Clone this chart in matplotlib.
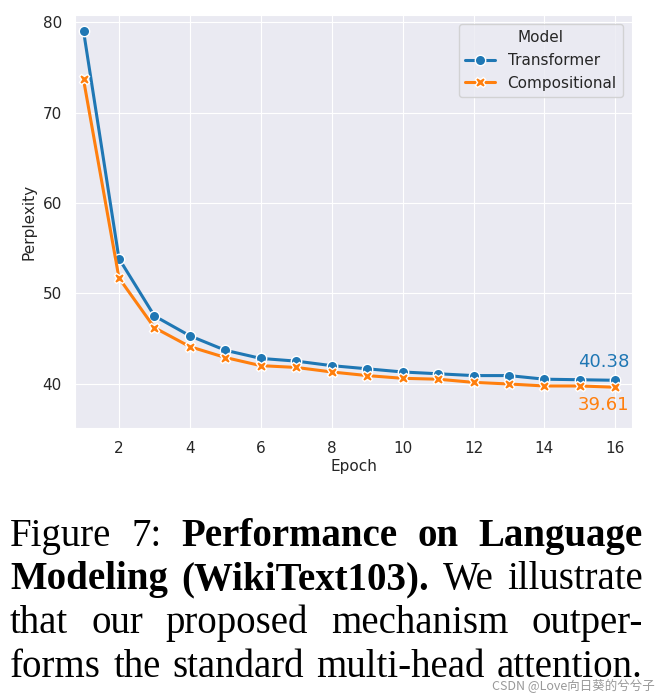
import matplotlib
matplotlib.use("Agg")
import matplotlib.pyplot as plt
import seaborn as sns

epochs = list(range(1, 17))
transformer = [79.04, 53.85, 47.5, 45.3, 43.7, 42.8, 42.5, 42.0, 41.65, 41.3,
               41.1, 40.9, 40.9, 40.5, 40.44, 40.38]
compositional = [73.67, 51.7, 46.2, 44.1, 42.9, 42.0, 41.8, 41.3, 40.9, 40.6,
                 40.5, 40.15, 39.97, 39.75, 39.75, 39.61]

caption_lines = [
    [("Figure", "normal"), ("7:", "normal"), ("Performance", "bold"), ("on", "bold"), ("Language", "bold")],
    [("Modeling", "bold"), ("(WikiText103).", "bold"), ("We", "normal"), ("illustrate", "normal")],
    [("that", "normal"), ("our", "normal"), ("proposed", "normal"), ("mechanism", "normal"), ("outper-", "normal")],
    [("forms", "normal"), ("the", "normal"), ("standard", "normal"), ("multi-head", "normal"), ("attention.", "normal")],
]

sns.set_style("darkgrid")
plt.rcParams["font.family"] = ["DejaVu Sans"]
W, H = 672, 699
fig = plt.figure(figsize=(W / 100, H / 100), dpi=100)
ax = fig.add_axes([75 / W, 1 - 428 / H, (632 - 75) / W, (428 - 15) / H])

blue, orange = "#1f77b4", "#ff7f0e"
ax.plot(epochs, transformer, color=blue, lw=2.2, marker="o", ms=7.5,
        mec="white", mew=1, label="Transformer")
ax.plot(epochs, compositional, color=orange, lw=2.2, marker="X", ms=7.5,
        mec="white", mew=1, label="Compositional")

ax.set_xlim(0.76, 16.47)
ax.set_ylim(35.1, 80.8)
ax.set_xticks(range(2, 17, 2))
ax.set_yticks([40, 50, 60, 70, 80])
ax.tick_params(labelsize=11, pad=6)
ax.set_xlabel("Epoch", fontsize=11, labelpad=2)
ax.set_ylabel("Perplexity", fontsize=11)

ax.text(16.39, 41.8, f"{transformer[-1]:.2f}", color=blue, fontsize=13,
        ha="right", va="baseline")
ax.text(16.39, 37.05, f"{compositional[-1]:.2f}", color=orange, fontsize=13,
        ha="right", va="baseline")

leg = ax.legend(title="Model", loc="upper right", fontsize=11, title_fontsize=11,
                borderaxespad=0.6)

# caption, justified word by word
renderer = fig.canvas.get_renderer()
x0, x1 = 10, 643
baselines = [546, 589, 633, 677]
for words, yb in zip(caption_lines, baselines):
    texts = [fig.text(0, 1 - yb / H, w, fontsize=28, fontweight=wt, color="black",
                      family="Liberation Serif", va="baseline", ha="left")
             for w, wt in words]
    widths = [t.get_window_extent(renderer).width for t in texts]
    gap = (x1 - x0 - sum(widths)) / (len(texts) - 1)
    x = x0
    for t, wd in zip(texts, widths):
        t.set_x(x / W)
        x += wd + gap

fig.text(655 / W, 1 - 689 / H, "CSDN @Love向日葵的兮兮子", fontsize=9,
         color="#999999", ha="right", va="baseline",
         family=["Noto Sans CJK SC", "DejaVu Sans"])

fig.savefig("out.png", dpi=100)
